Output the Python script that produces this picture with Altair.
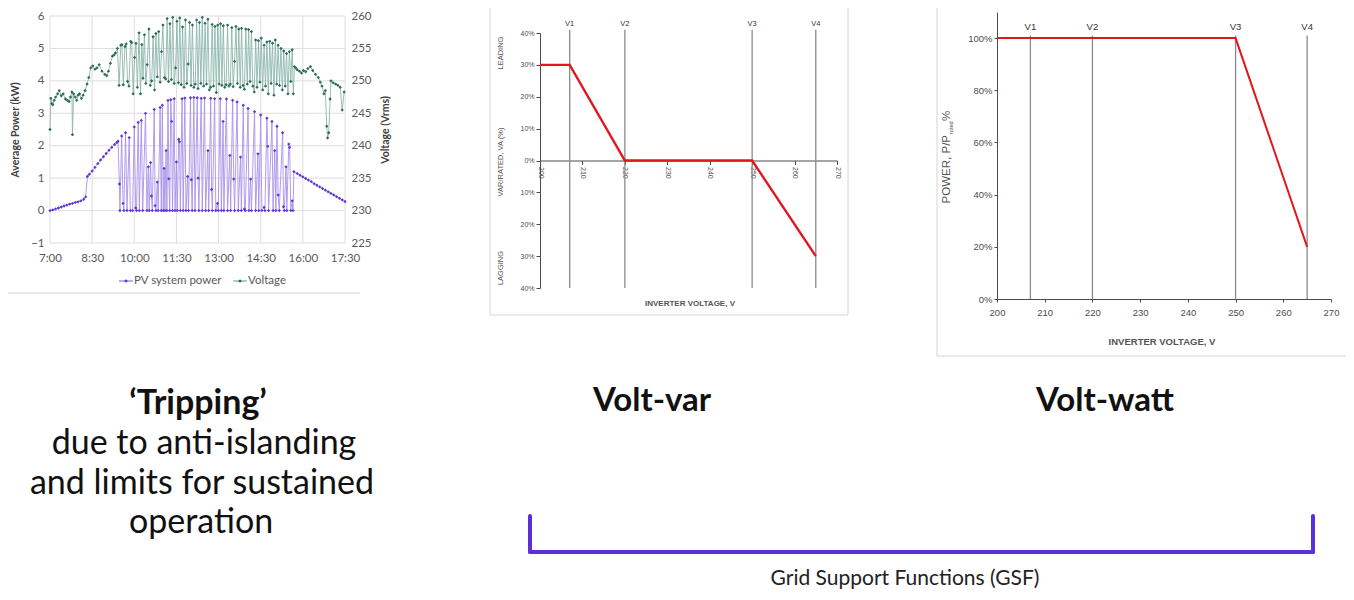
import altair as alt
import pandas as pd

pv_power_kw = [  # (hour of day, average power kW)
    (7.00, 0.00), (7.10, 0.02), (7.20, 0.05), (7.30, 0.08), (7.40, 0.11), (7.50, 0.14),
    (7.60, 0.17), (7.70, 0.20), (7.80, 0.22), (7.90, 0.25), (8.00, 0.27), (8.10, 0.30),
    (8.20, 0.35), (8.27, 0.42), (8.33, 1.05), (8.40, 1.12), (8.50, 1.22), (8.60, 1.33),
    (8.70, 1.45), (8.80, 1.56), (8.90, 1.66), (9.00, 1.76), (9.10, 1.86), (9.20, 1.95),
    (9.30, 2.04), (9.38, 2.10), (9.42, 2.14),
    (9.47, 0.82), (9.49, 0.00), (9.55, 2.30), (9.60, 0.22), (9.63, 0.00), (9.69, 2.40),
    (9.74, 0.00), (9.82, 2.25), (9.86, 0.00), (9.94, 0.00), (10.00, 2.58), (10.05, 0.08),
    (10.08, 0.00), (10.14, 2.72), (10.18, 0.00), (10.25, 2.78), (10.30, 0.00), (10.40, 3.00),
    (10.45, 0.00), (10.50, 1.35), (10.53, 0.00), (10.58, 1.48), (10.61, 0.45), (10.64, 0.00),
    (10.71, 3.12), (10.74, 0.15), (10.77, 0.00), (10.82, 0.88), (10.85, 0.00), (10.92, 3.18),
    (10.96, 0.00), (11.00, 3.25), (11.03, 0.00), (11.06, 1.30), (11.09, 0.00), (11.13, 1.85),
    (11.16, 0.00), (11.20, 3.40), (11.23, 0.98), (11.26, 0.00), (11.30, 3.42), (11.33, 2.75),
    (11.36, 0.00), (11.42, 3.45), (11.45, 0.00), (11.50, 1.50), (11.53, 0.00), (11.58, 2.20),
    (11.61, 2.12), (11.64, 0.00), (11.70, 3.45), (11.74, 0.00), (11.80, 3.47), (11.84, 0.00),
    (11.90, 1.05), (11.93, 0.00), (12.00, 3.48), (12.03, 0.95), (12.06, 0.00), (12.12, 3.49),
    (12.16, 0.00), (12.24, 3.48), (12.27, 1.00), (12.30, 0.00), (12.38, 3.46), (12.42, 0.00),
    (12.50, 3.47), (12.54, 0.00), (12.62, 1.85), (12.65, 0.00), (12.72, 3.46), (12.75, 0.65),
    (12.78, 0.00), (12.86, 3.45), (12.90, 0.00), (12.96, 0.22), (12.99, 0.00), (13.06, 3.45),
    (13.10, 0.00), (13.16, 2.75), (13.19, 0.00), (13.28, 3.44), (13.32, 0.00), (13.40, 1.70),
    (13.43, 0.00), (13.50, 3.40), (13.54, 0.97), (13.57, 0.00), (13.66, 3.35), (13.70, 0.00),
    (13.78, 1.65), (13.81, 0.00), (13.88, 3.25), (13.92, 0.05), (13.95, 0.00), (14.05, 3.15),
    (14.08, 0.00), (14.14, 0.97), (14.17, 0.00), (14.28, 3.05), (14.32, 0.00), (14.40, 1.75),
    (14.43, 0.00), (14.50, 2.95), (14.54, 0.00), (14.62, 0.10), (14.65, 0.00), (14.72, 2.85),
    (14.75, 1.98), (14.78, 0.00), (14.90, 2.75), (14.94, 0.00), (15.00, 1.85), (15.04, 0.00),
    (15.08, 2.60), (15.12, 0.48), (15.16, 0.00), (15.28, 2.40), (15.31, 0.12), (15.34, 0.00),
    (15.40, 1.35), (15.43, 0.00), (15.50, 2.05), (15.53, 1.95), (15.57, 0.00), (15.62, 0.30),
    (15.65, 0.00),
    (15.68, 1.20), (15.80, 1.14), (15.90, 1.09), (16.00, 1.04), (16.10, 0.99), (16.20, 0.94),
    (16.30, 0.89), (16.40, 0.83), (16.50, 0.78), (16.60, 0.73), (16.70, 0.68), (16.80, 0.63),
    (16.90, 0.58), (17.00, 0.53), (17.10, 0.48), (17.20, 0.43), (17.30, 0.38), (17.40, 0.33),
    (17.50, 0.28),
]

pv_voltage_v = [  # (hour of day, voltage Vrms)
    (7.00, 242.5), (7.03, 247.3), (7.07, 246.5), (7.10, 246.3), (7.15, 247.0), (7.20, 247.5),
    (7.27, 248.0), (7.33, 248.5), (7.40, 247.7), (7.47, 248.0), (7.55, 247.2), (7.62, 247.0),
    (7.68, 246.8), (7.73, 247.5), (7.78, 248.3), (7.80, 241.7), (7.84, 248.0), (7.90, 247.5),
    (7.95, 247.0), (8.00, 247.8), (8.05, 248.0), (8.12, 247.3), (8.18, 247.8), (8.25, 248.5),
    (8.32, 249.5), (8.38, 250.5), (8.45, 252.0), (8.52, 252.3), (8.60, 251.8), (8.67, 252.0),
    (8.75, 252.5), (8.85, 251.5), (8.95, 251.0), (9.02, 250.8), (9.08, 251.5), (9.15, 252.7),
    (9.22, 253.8), (9.28, 254.0), (9.33, 254.3), (9.40, 255.0),
    (9.46, 249.3), (9.52, 255.5), (9.56, 255.6), (9.61, 249.4), (9.67, 255.3), (9.71, 255.7),
    (9.76, 249.9), (9.81, 249.2), (9.87, 256.1), (9.91, 255.9), (9.96, 248.0), (10.01, 253.6),
    (10.06, 255.8), (10.11, 249.0), (10.17, 257.4), (10.22, 248.0), (10.27, 255.6), (10.31, 250.4),
    (10.36, 257.1), (10.41, 249.6), (10.46, 252.5), (10.52, 258.0), (10.57, 249.3), (10.62, 250.0),
    (10.67, 256.8), (10.72, 248.6), (10.77, 257.3), (10.82, 250.6), (10.87, 257.6), (10.92, 249.8),
    (10.97, 254.5), (11.02, 258.6), (11.07, 250.5), (11.12, 250.3), (11.17, 259.6), (11.22, 249.9),
    (11.27, 258.8), (11.32, 250.2), (11.37, 259.8), (11.42, 249.6), (11.47, 252.0), (11.52, 259.2),
    (11.57, 249.7), (11.62, 259.7), (11.67, 249.4), (11.72, 258.3), (11.77, 249.0), (11.82, 259.4),
    (11.87, 249.6), (11.92, 252.6), (11.97, 259.0), (12.02, 249.3), (12.07, 258.6), (12.12, 249.0),
    (12.17, 249.5), (12.22, 259.4), (12.27, 248.8), (12.32, 259.0), (12.37, 249.6), (12.42, 259.8),
    (12.47, 249.2), (12.52, 258.9), (12.57, 249.5), (12.62, 259.5), (12.67, 248.6), (12.72, 249.0),
    (12.77, 258.7), (12.82, 249.2), (12.87, 258.4), (12.92, 248.2), (12.97, 258.6), (13.02, 249.5),
    (13.07, 258.8), (13.12, 249.3), (13.17, 258.5), (13.22, 249.0), (13.27, 249.4), (13.32, 258.6),
    (13.37, 249.2), (13.42, 249.5), (13.47, 258.2), (13.52, 249.1), (13.57, 253.0), (13.62, 258.4),
    (13.67, 249.6), (13.72, 258.0), (13.77, 249.0), (13.82, 258.1), (13.87, 249.3), (13.92, 248.7),
    (13.97, 258.0), (14.02, 249.5), (14.07, 257.9), (14.12, 249.9), (14.17, 257.6), (14.22, 249.2),
    (14.27, 248.3), (14.32, 256.3), (14.37, 249.0), (14.42, 256.2), (14.47, 249.8), (14.52, 256.6),
    (14.57, 248.6), (14.62, 255.5), (14.67, 249.2), (14.72, 256.0), (14.77, 248.0), (14.82, 256.1),
    (14.87, 249.6), (14.92, 255.8), (14.97, 247.8), (15.02, 256.3), (15.07, 249.5), (15.12, 255.5),
    (15.17, 249.3), (15.22, 255.0), (15.27, 248.6), (15.32, 254.6), (15.37, 249.2), (15.42, 254.2),
    (15.47, 248.0), (15.52, 254.5), (15.57, 249.9), (15.62, 254.8), (15.66, 248.0),
    (15.70, 252.2), (15.75, 252.0), (15.80, 251.7), (15.88, 251.5), (15.95, 251.2), (16.02, 251.6),
    (16.10, 251.4), (16.18, 251.9), (16.27, 252.2), (16.35, 251.6), (16.45, 251.0), (16.55, 250.5),
    (16.62, 249.8), (16.68, 249.2), (16.75, 248.0), (16.80, 248.5), (16.85, 243.0), (16.88, 241.2),
    (16.92, 242.0), (16.97, 247.2), (17.00, 250.0), (17.08, 249.7), (17.17, 249.5), (17.25, 249.3),
    (17.33, 249.0), (17.40, 245.5), (17.47, 248.3),
]

time_ticks = [7, 8.5, 10, 11.5, 13, 14.5, 16, 17.5]
power_ticks = [-1, 0, 1, 2, 3, 4, 5, 6]
voltage_ticks = [225, 230, 235, 240, 245, 250, 255, 260]

# ---------------- Panels 2 and 3: volt-var and volt-watt curves ----------------
vv_voltage = [200, 207, 220, 250, 265]
vv_var_pct = [30, 30, 0, 0, -30]
vw_voltage = [200, 250, 265]
vw_power_pct = [100, 100, 20]
set_voltages = [207, 220, 250, 265]
set_names = ["V1", "V2", "V3", "V4"]
inv_ticks = [200, 210, 220, 230, 240, 250, 260, 270]
var_ticks = [-40, -30, -20, -10, 0, 10, 20, 30, 40]
pw_ticks = [0, 20, 40, 60, 80, 100]

# ---------------- helpers ----------------
W, H = 1338, 584


def P(v):
    """page pixel -> chart pixel (page has an 8px margin)"""
    return v - 8


ONE = pd.DataFrame({"t": [""]})


def text(s, x, y, size, weight="normal", color="#222222", font="Lato", angle=0,
         align="center", baseline="alphabetic"):
    return alt.Chart(pd.DataFrame({"t": [s]})).mark_text(
        font=font, fontSize=size, fontWeight=weight, color=color, angle=angle,
        align=align, baseline=baseline
    ).encode(x=alt.value(P(x)), y=alt.value(P(y)), text="t:N")


def rule(x1, y1, x2, y2, color, width=1, cap="butt"):
    return alt.Chart(ONE).mark_rule(color=color, strokeWidth=width, strokeCap=cap).encode(
        x=alt.value(P(x1)), x2=alt.value(P(x2)), y=alt.value(P(y1)), y2=alt.value(P(y2))
    )


layers = []

# ================= Panel 1 =================
X1 = alt.Scale(domain=[7, 17.5], range=[P(50), P(345)], nice=False, zero=False)
YP = alt.Scale(domain=[-1, 6], range=[P(243), P(16)], nice=False, zero=False)
YV = alt.Scale(domain=[225, 260], range=[P(243), P(16)], nice=False, zero=False)
GRID = "#dedede"
LBL = "#595959"

df_pv = pd.DataFrame(pv_power_kw, columns=["hour", "kw"])
df_v = pd.DataFrame(pv_voltage_v, columns=["hour", "volts"])
df_tg = pd.DataFrame({"hour": time_ticks, "lo": -1, "hi": 6})
df_pg = pd.DataFrame({"kw": power_ticks, "lo": 7, "hi": 17.5})

layers.append(
    alt.Chart(df_tg).mark_rule(color=GRID, strokeWidth=1).encode(
        x=alt.X("hour:Q", scale=X1, axis=alt.Axis(
            orient="bottom", offset=P(243) - H, values=time_ticks,
            labelExpr="floor(datum.value) + ':' + (datum.value % 1 > 0.25 ? '30' : '00')",
            grid=False, domain=False, ticks=False, labelFont="Lato", labelFontSize=11.5,
            labelColor=LBL, labelPadding=9, title=None, labelOverlap=False,
            labelFlush=False, labelBound=False)),
        y=alt.Y("lo:Q", scale=YP, axis=None), y2="hi:Q")
)
layers.append(
    alt.Chart(df_pg).mark_rule(color=GRID, strokeWidth=1).encode(
        y=alt.Y("kw:Q", scale=YP, axis=alt.Axis(
            orient="left", offset=-P(50), values=power_ticks, grid=False, domain=False,
            ticks=False, labelFont="Lato", labelFontSize=11.5, labelColor=LBL,
            labelPadding=6, title=None, labelFlush=False)),
        x=alt.X("lo:Q", scale=X1, axis=None), x2="hi:Q")
)
layers.append(
    alt.Chart(df_pv).mark_line(color="#a992ea", strokeWidth=0.9).encode(
        x=alt.X("hour:Q", scale=X1, axis=None), y=alt.Y("kw:Q", scale=YP, axis=None))
)
layers.append(
    alt.Chart(df_pv).mark_point(filled=True, shape="diamond", size=11, color="#6236d6", opacity=1).encode(
        x=alt.X("hour:Q", scale=X1, axis=None), y=alt.Y("kw:Q", scale=YP, axis=None))
)
layers.append(
    alt.Chart(df_v).mark_line(color="#8cb7aa", strokeWidth=0.9).encode(
        x=alt.X("hour:Q", scale=X1, axis=None),
        y=alt.Y("volts:Q", scale=YV, axis=alt.Axis(
            orient="right", offset=P(345) - W, values=voltage_ticks, grid=False,
            domain=False, ticks=False, labelFont="Lato", labelFontSize=11.5,
            labelColor=LBL, labelPadding=6, title=None, labelFlush=False)))
)
layers.append(
    alt.Chart(df_v).mark_point(filled=True, shape="diamond", size=11, color="#2c6b58", opacity=1).encode(
        x=alt.X("hour:Q", scale=X1, axis=None), y=alt.Y("volts:Q", scale=YV, axis=None))
)
layers += [
    text("Average Power (kW)", 16, 130, 10.5, weight="bold", color="#404040", angle=270,
         baseline="middle"),
    text("Voltage (Vrms)", 386, 130, 10.5, weight="bold", color="#404040", angle=270,
         baseline="middle"),
    rule(119, 281, 133, 281, "#8f74e2", 1.2),
    alt.Chart(ONE).mark_point(filled=True, shape="diamond", size=14, color="#6236d6", opacity=1).encode(
        x=alt.value(P(126)), y=alt.value(P(281))),
    text("PV system power", 134, 281, 11.5, color=LBL, align="left", baseline="middle"),
    rule(233, 281, 247, 281, "#7aa999", 1.2),
    alt.Chart(ONE).mark_point(filled=True, shape="diamond", size=14, color="#2c6b58", opacity=1).encode(
        x=alt.value(P(240)), y=alt.value(P(281))),
    text("Voltage", 248, 281, 11.5, color=LBL, align="left", baseline="middle"),
    rule(8, 293, 360, 293, "#d4d4d4", 1),
]

# ================= Panel 2: Volt-var =================
X2 = alt.Scale(domain=[200, 270], range=[P(540), P(837)], nice=False, zero=False)
Y2 = alt.Scale(domain=[-40, 40], range=[P(288), P(33)], nice=False, zero=False)
AX = "#4a4a4a"
df_set2 = pd.DataFrame({"v": set_voltages, "name": set_names, "lo": -40, "hi": 41})
df_vv = pd.DataFrame({"v": vv_voltage, "q": vv_var_pct})

layers += [
    rule(490, 8, 490, 315, "#d6d6d6", 1),
    rule(490, 315, 848, 315, "#d6d6d6", 1),
    rule(848, 8, 848, 315, "#d6d6d6", 1),
]
layers.append(
    alt.Chart(df_set2).mark_rule(color="#8a8a8a", strokeWidth=1.3).encode(
        x=alt.X("v:Q", scale=X2, axis=None), y=alt.Y("lo:Q", scale=Y2, axis=None), y2="hi:Q")
)
layers.append(
    alt.Chart(df_set2).mark_text(font="Liberation Sans", fontSize=7.5, color="#333333",
                                 baseline="middle").encode(
        x=alt.X("v:Q", scale=X2, axis=None), y=alt.value(P(24)), text="name:N")
)
layers.append(
    alt.Chart(df_vv).mark_line(color="#e4161d", strokeWidth=2.4).encode(
        x=alt.X("v:Q", scale=X2, axis=alt.Axis(
            orient="bottom", offset=P(160.5) - H, values=inv_ticks, labelAngle=90,
            grid=False, domainColor=AX, tickColor=AX, tickSize=4, labelFont="Liberation Sans",
            labelFontSize=7, labelColor="#4d4d4d", labelPadding=2, title=None,
            labelOverlap=False, labelFlush=False, labelBound=False)),
        y=alt.Y("q:Q", scale=Y2, axis=alt.Axis(
            orient="left", offset=-P(540), values=var_ticks,
            labelExpr="abs(datum.value) + '%'", grid=False, domainColor=AX, tickColor=AX,
            tickSize=4, labelFont="Liberation Sans", labelFontSize=7, labelColor="#4d4d4d",
            labelPadding=2, title=None, labelOverlap=False, labelFlush=False)))
)
layers += [
    text("LEADING", 501, 53, 7.5, color="#555555", font="Liberation Sans", angle=270,
         baseline="middle"),
    text("VAR/RATED,  VA (%)", 501, 162, 7.5, color="#555555", font="Liberation Sans",
         angle=270, baseline="middle"),
    text("LAGGING", 501, 268, 7.5, color="#555555", font="Liberation Sans", angle=270,
         baseline="middle"),
    text("INVERTER VOLTAGE, V", 690, 304, 8, color="#555555", font="Liberation Sans",
         weight="bold", baseline="middle"),
]

# ================= Panel 3: Volt-watt =================
X3 = alt.Scale(domain=[200, 270], range=[P(997), P(1331)], nice=False, zero=False)
Y3 = alt.Scale(domain=[0, 110], range=[P(299), P(12)], nice=False, zero=False)
df_set3 = pd.DataFrame({"v": set_voltages, "name": set_names, "lo": 0, "hi": 101})
df_vw = pd.DataFrame({"v": vw_voltage, "p": vw_power_pct})

layers += [
    rule(937, 8, 937, 356, "#d6d6d6", 1),
    rule(937, 356, 1346, 356, "#d6d6d6", 1),
]
layers.append(
    alt.Chart(df_set3).mark_rule(color="#8a8a8a", strokeWidth=1.3).encode(
        x=alt.X("v:Q", scale=X3, axis=None), y=alt.Y("lo:Q", scale=Y3, axis=None), y2="hi:Q")
)
layers.append(
    alt.Chart(df_set3).mark_text(font="Liberation Sans", fontSize=9.5, color="#333333",
                                 baseline="middle").encode(
        x=alt.X("v:Q", scale=X3, axis=None), y=alt.value(P(27)), text="name:N")
)
layers.append(
    alt.Chart(df_vw).mark_line(color="#e4161d", strokeWidth=2).encode(
        x=alt.X("v:Q", scale=X3, axis=alt.Axis(
            orient="bottom", offset=P(299) - H, values=inv_ticks, grid=False,
            domainColor=AX, tickColor=AX, tickSize=3, labelFont="Liberation Sans",
            labelFontSize=9.5, labelColor="#4d4d4d", labelPadding=5, title=None,
            labelOverlap=False, labelFlush=False, labelBound=False)),
        y=alt.Y("p:Q", scale=Y3, axis=alt.Axis(
            orient="left", offset=-P(997), values=pw_ticks,
            labelExpr="datum.value + '%'", grid=False, domainColor=AX, tickColor=AX,
            tickSize=3, labelFont="Liberation Sans", labelFontSize=9.5,
            labelColor="#4d4d4d", labelPadding=2, title=None, labelOverlap=False,
            labelFlush=False)))
)
layers += [
    text("POWER, P/P", 947, 135, 11.5, color="#555555", font="Liberation Sans", angle=270,
         align="right", baseline="middle"),
    text("rated", 951, 134, 5.5, color="#555555", font="Liberation Sans", angle=270,
         align="left", baseline="middle"),
    text("%", 947, 121, 11.5, color="#555555", font="Liberation Sans", angle=270,
         align="left", baseline="middle"),
    text("INVERTER VOLTAGE, V", 1162, 342, 9.5, color="#555555", font="Liberation Sans",
         weight="bold", baseline="middle"),
]

# ================= Captions and bracket =================
layers += [
    text("\u2018Tripping\u2019", 198, 414, 34, weight="bold", color="#111111"),
    text("due to anti-islanding", 204, 454, 34, color="#111111"),
    text("and limits for sustained", 202, 494, 34, color="#111111"),
    text("operation", 201, 533, 34, color="#111111"),
    text("Volt-var", 652, 411, 33, weight="bold", color="#111111"),
    text("Volt-watt", 1105, 411, 33, weight="bold", color="#111111"),
    rule(530, 516, 530, 552, "#5b30d4", 4, "round"),
    rule(530, 552, 1313, 552, "#5b30d4", 4, "round"),
    rule(1313, 516, 1313, 552, "#5b30d4", 4, "round"),
    text("Grid Support Functions (GSF)", 905, 585, 21, color="#222222"),
]

chart = alt.layer(*layers).resolve_scale(x="independent", y="independent").properties(
    width=W, height=H, autosize=alt.AutoSizeParams(type="none"), padding=0
).configure_view(strokeWidth=0)

chart.save("out.html", embed_options={"renderer": "svg", "actions": False})
